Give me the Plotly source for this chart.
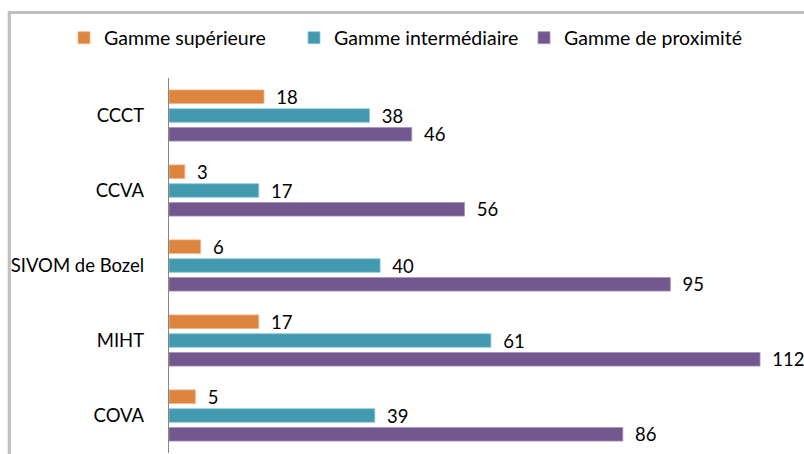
import plotly.graph_objects as go

categories = ["CCCT", "CCVA", "SIVOM de Bozel", "MIHT", "COVA"]
series_names = ["Gamme supérieure", "Gamme intermédiaire", "Gamme de proximité"]
superieure = [18, 3, 6, 17, 5]
intermediaire = [38, 17, 40, 61, 39]
proximite = [46, 56, 95, 112, 86]
colors = ["#DD843E", "#4399B0", "#72588E"]
edge_colors = ["#F2B58A", "#8CC6D6", "#A592BD"]

FONT = "Lato"
W, H = 804, 454
ML, MR, MT, MB = 169, 14, 78, 1
PW, PH = W - ML - MR, H - MT - MB

fig = go.Figure()
for name, vals, c, ec in zip(series_names, [superieure, intermediaire, proximite], colors, edge_colors):
    fig.add_trace(go.Bar(
        name=name, y=categories, x=vals, orientation="h",
        marker=dict(color=c, line=dict(color=ec, width=0.8)),
        text=vals, texttemplate="\u2002%{x}", textposition="outside",
        textfont=dict(family=FONT, size=18.5, color="#000000"),
        cliponaxis=False, constraintext="none",
    ))

def px_x(px):
    return (px - ML) / PW

def px_y(py):
    return 1 - (py - MT) / PH

fig.update_layout(
    width=W, height=H,
    margin=dict(l=ML, r=MR, t=MT, b=MB, autoexpand=False),
    paper_bgcolor="white", plot_bgcolor="white",
    barmode="group", bargap=0.248, bargroupgap=0.277,
    font=dict(family=FONT, size=18.5, color="#000000"),
    showlegend=True,
    legend=dict(orientation="h", xref="paper", yref="paper",
                x=px_x(64), xanchor="left", y=px_y(38), yanchor="middle",
                entrywidth=185, entrywidthmode="pixels",
                font=dict(family=FONT, size=19.5, color="#000000"),
                bgcolor="rgba(0,0,0,0)", traceorder="normal"),
    xaxis=dict(range=[0, (790 - ML) / 5.277], showgrid=False, zeroline=False,
               showticklabels=False, showline=False, ticks="", automargin=False),
    yaxis=dict(autorange="reversed", showgrid=False, zeroline=False,
               showline=True, linecolor="#868686", linewidth=1.3,
               ticks="", ticklabelstandoff=20, automargin=False,
               tickfont=dict(family=FONT, size=18.5, color="#000000")),
    shapes=[
        dict(type="rect", xref="paper", yref="paper",
             x0=px_x(9.3), x1=px_x(900), y0=px_y(600), y1=px_y(12.5),
             line=dict(color="#BFBFBF", width=3.2), fillcolor="rgba(0,0,0,0)", layer="above"),
    ],
)

fig.write_html(
    "out.html",
    config={"displayModeBar": False},
    post_script="document.body.style.margin='0';document.body.style.overflow='hidden';",
)
